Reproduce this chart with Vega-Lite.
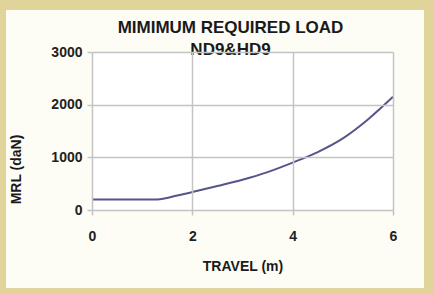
{
  "$schema": "https://vega.github.io/schema/vega-lite/v6.json",
  "width": 301,
  "height": 158,
  "autosize": "none",
  "padding": {"left": 92, "top": 52, "right": 41, "bottom": 84},
  "background": "#e0d49a",
  "title": {
    "text": ["MIMIMUM REQUIRED LOAD", "ND9&HD9"],
    "font": "Liberation Sans",
    "fontSize": 17,
    "fontWeight": "bold",
    "color": "#1a1a1a",
    "lineHeight": 22,
    "anchor": "middle",
    "dx": -12,
    "offset": -49
  },
  "config": {
    "view": {"stroke": "#b8b8b8", "strokeWidth": 1.5},
    "axis": {
      "labelFont": "Liberation Sans",
      "labelFontSize": 14,
      "labelFontWeight": "bold",
      "labelColor": "#222222",
      "titleFont": "Liberation Sans",
      "titleFontSize": 14,
      "titleFontWeight": "bold",
      "titleColor": "#1a1a1a",
      "gridColor": "#c4c4c4",
      "gridWidth": 1.5,
      "gridOpacity": 1,
      "tickColor": "#c4c4c4",
      "tickSize": 5,
      "tickWidth": 1.5,
      "domain": false
    }
  },
  "data": {
    "values": [
      {"travel": 0, "mrl": 200},
      {"travel": 1.3, "mrl": 200},
      {"travel": 1.7, "mrl": 275},
      {"travel": 2, "mrl": 340},
      {"travel": 2.5, "mrl": 455},
      {"travel": 3, "mrl": 575},
      {"travel": 3.5, "mrl": 720},
      {"travel": 4, "mrl": 900},
      {"travel": 4.5, "mrl": 1100},
      {"travel": 5, "mrl": 1360},
      {"travel": 5.5, "mrl": 1720},
      {"travel": 6, "mrl": 2150}
    ]
  },
  "encoding": {
    "x": {
      "field": "travel",
      "type": "quantitative",
      "scale": {"domain": [0, 6], "nice": false, "zero": false},
      "axis": {"values": [0, 2, 4, 6], "title": "TRAVEL (m)", "labelPadding": 14, "titlePadding": 16, "labelFlush": false, "grid": true, "zindex": 1}
    },
    "y": {
      "field": "mrl",
      "type": "quantitative",
      "scale": {"domain": [0, 3000], "nice": false},
      "axis": {"values": [0, 1000, 2000, 3000], "format": "d", "title": "MRL (daN)", "labelPadding": 5, "titleX": -76, "titleY": 117, "titleAngle": -90, "titleBaseline": "middle", "titleAlign": "center", "labelFlush": false, "grid": true, "zindex": 1}
    }
  },
  "layer": [
    {
      "mark": {"type": "rect", "color": "#fdfdf5", "clip": false},
      "encoding": {
        "x": {"datum": -1.714, "type": "quantitative"},
        "x2": {"datum": 6.618},
        "y": {"datum": 3797, "type": "quantitative"},
        "y2": {"datum": -1481}
      }
    },
    {
      "mark": {"type": "rect", "color": "#ffffff"},
      "encoding": {
        "x": {"datum": 0, "type": "quantitative"},
        "x2": {"datum": 6},
        "y": {"datum": 0, "type": "quantitative"},
        "y2": {"datum": 3000}
      }
    },
    {
      "mark": {"type": "line", "interpolate": "monotone", "color": "#55558a", "strokeWidth": 2}
    }
  ]
}
